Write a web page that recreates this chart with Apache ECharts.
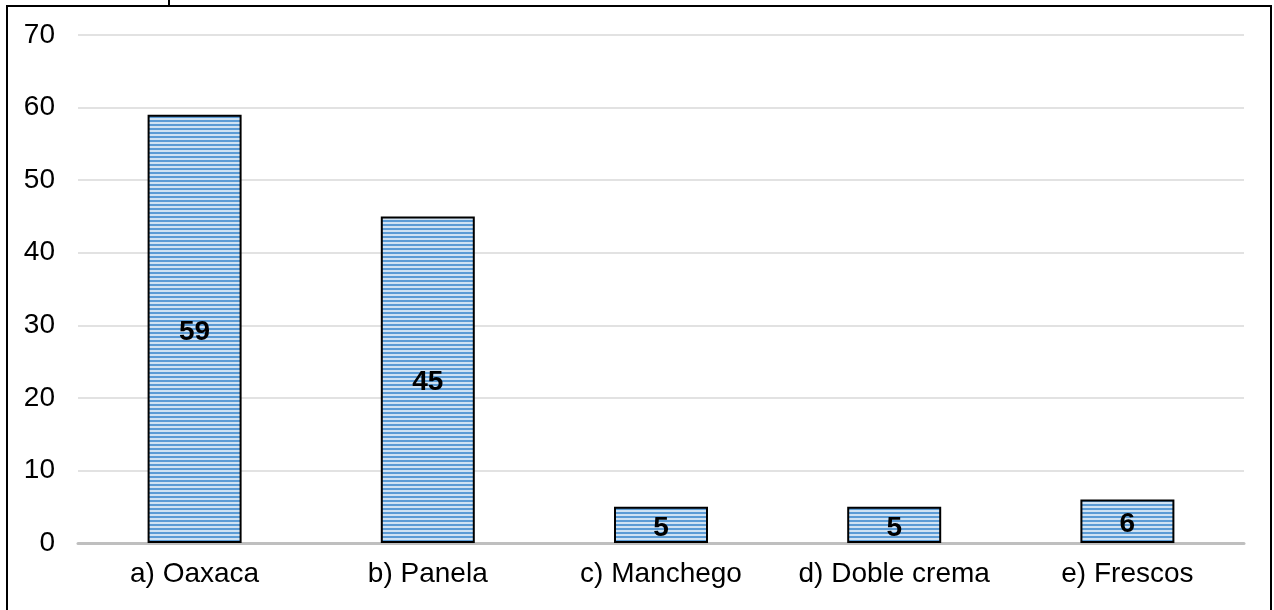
<!DOCTYPE html>
<html>
<head>
<meta charset="utf-8">
<script src="https://cdn.jsdelivr.net/npm/echarts@6/dist/echarts.min.js"></script>
<style>
html,body{margin:0;padding:0;background:#fff;}
#c{width:1274px;height:610px;}
</style>
</head>
<body>
<div id="c"></div>
<script>
const categories = ['a) Oaxaca', 'b) Panela', 'c) Manchego', 'd) Doble crema', 'e) Frescos'];
const values = [59, 45, 5, 5, 6];
const yTicks = [0, 10, 20, 30, 40, 50, 60, 70];

const pc = document.createElement('canvas');
pc.width = 4; pc.height = 4;
const g = pc.getContext('2d');
g.fillStyle = '#5B9BD5'; g.fillRect(0, 0, 4, 2);
g.fillStyle = '#CFE2F3'; g.fillRect(0, 2, 4, 2);

const chart = echarts.init(document.getElementById('c'), null, {renderer: 'canvas'});
chart.setOption({
  animation: false,
  backgroundColor: '#fff',
  grid: {left: 78, right: 30, top: 35, bottom: 67, containLabel: false},
  xAxis: {
    type: 'category',
    data: categories,
    axisLine: {lineStyle: {color: '#BFBFBF', width: 3}},
    axisTick: {show: false},
    axisLabel: {interval: 0, color: '#000', fontFamily: 'Liberation Sans, Arial', fontSize: 28, margin: 17}
  },
  yAxis: {
    type: 'value',
    min: yTicks[0], max: yTicks[yTicks.length - 1], interval: 10,
    axisLine: {show: false},
    axisTick: {show: false},
    splitLine: {lineStyle: {color: '#D9D9D9', width: 1.5}},
    axisLabel: {color: '#000', fontFamily: 'Liberation Sans, Arial', fontSize: 28, margin: 23}
  },
  series: [{
    type: 'bar',
    data: values,
    barWidth: 94,
    itemStyle: {color: {image: pc, repeat: 'repeat'}, borderColor: '#000', borderWidth: 2},
    label: {show: true, position: 'inside', offset: [0, 3], color: '#000', fontWeight: 'bold', fontSize: 28, fontFamily: 'Liberation Sans, Arial'}
  }],
  graphic: [
    {type: 'rect', shape: {x: 7, y: 6, width: 1264, height: 620}, style: {fill: 'none', stroke: '#000', lineWidth: 2}, silent: true},
    {type: 'rect', shape: {x: 168, y: 0, width: 2, height: 6}, style: {fill: '#000'}, silent: true}
  ]
});
</script>
</body>
</html>
